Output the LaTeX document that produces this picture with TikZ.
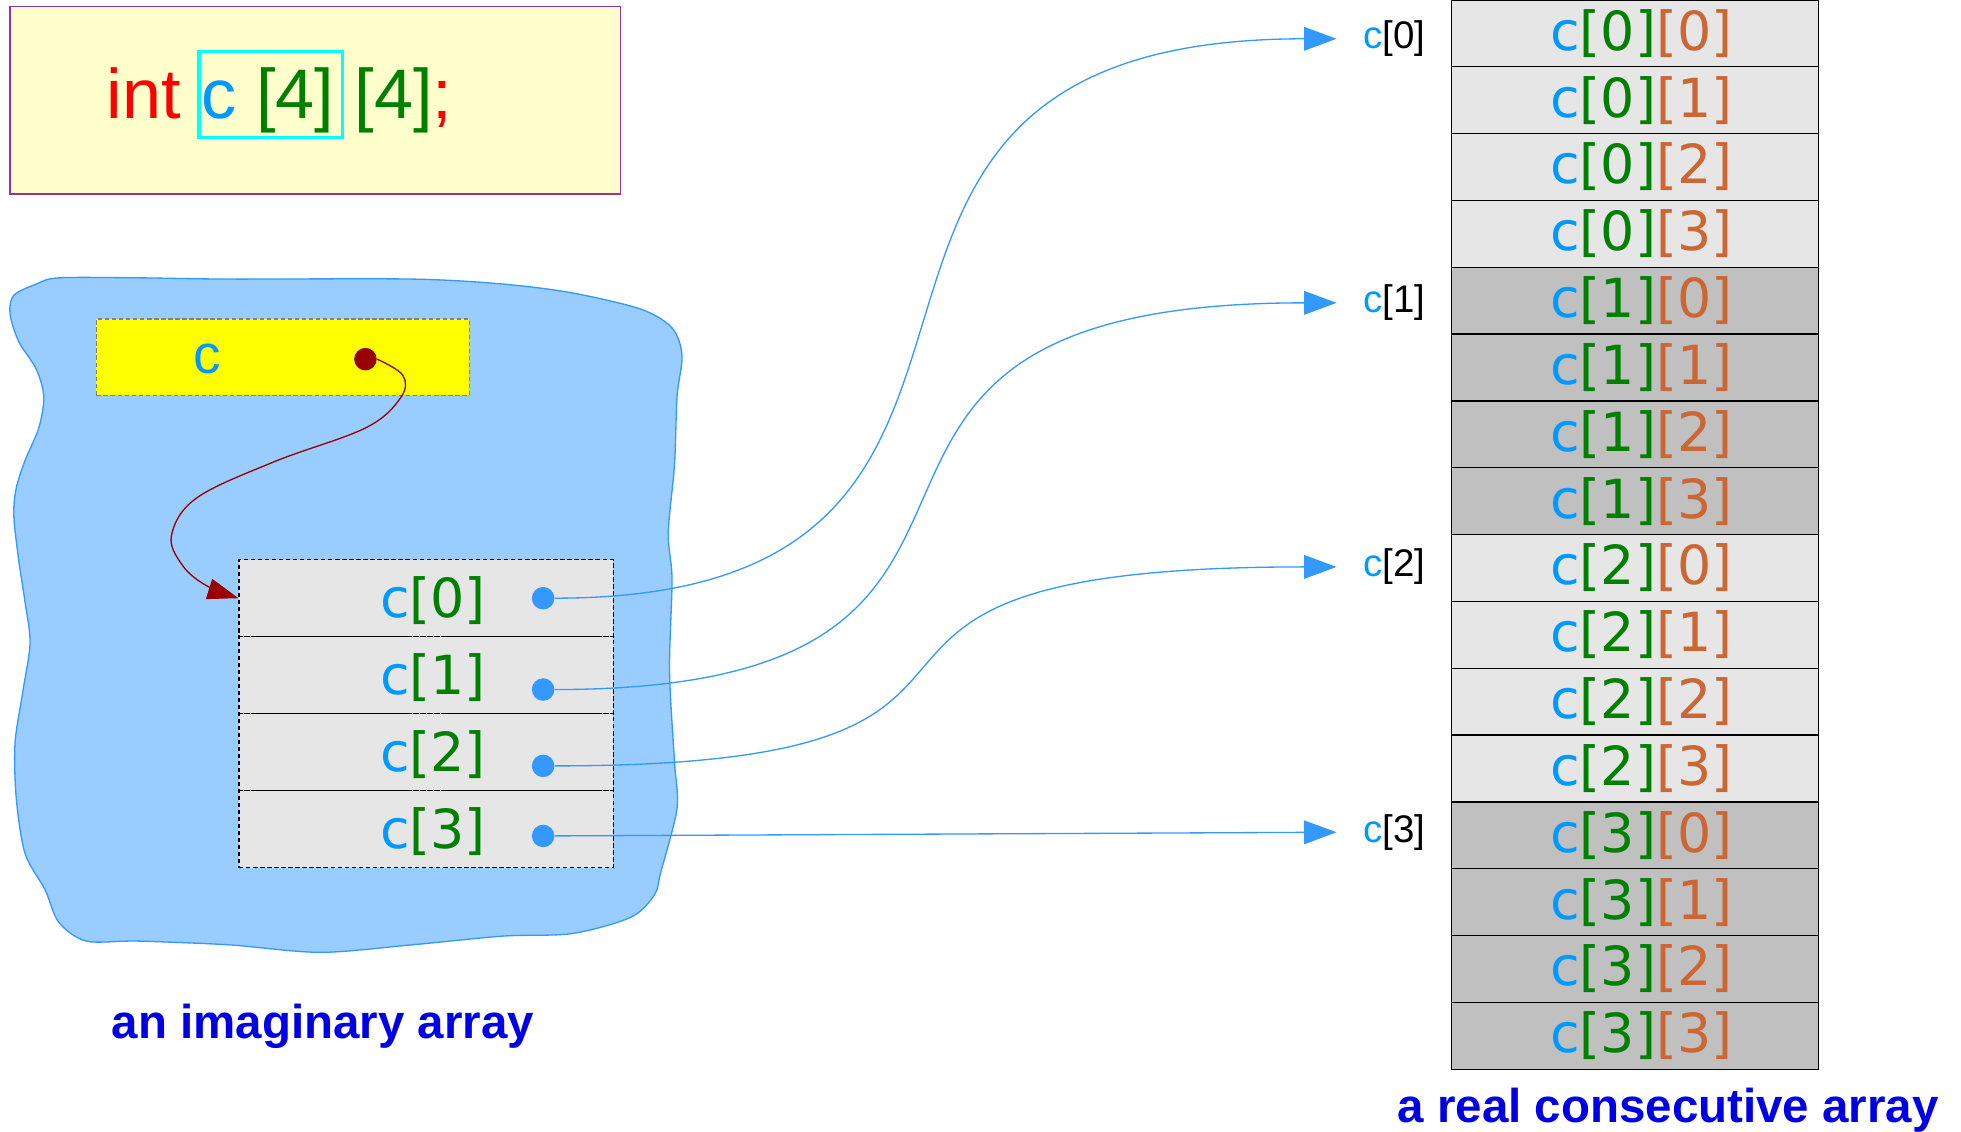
\documentclass[tikz,border=0pt]{standalone}
\usepackage{fontspec}
\setmainfont{Liberation Sans}
\newfontfamily\dvs{DejaVu Sans}
\usetikzlibrary{arrows.meta,calc}
\definecolor{cblue}{RGB}{0,153,255}
\definecolor{cgreen}{RGB}{0,128,0}
\definecolor{corange}{RGB}{204,102,51}
\definecolor{cred}{RGB}{255,0,0}
\definecolor{ccyan}{RGB}{0,255,255}
\definecolor{ablue}{RGB}{51,153,255}
\definecolor{blobfill}{RGB}{153,204,255}
\definecolor{cellL}{RGB}{230,230,230}
\definecolor{cellD}{RGB}{192,192,192}
\definecolor{dyellow}{RGB}{255,255,204}
\definecolor{dpurple}{RGB}{153,51,153}
\definecolor{tblue}{RGB}{0,0,230}
\definecolor{dred}{RGB}{153,0,0}
\definecolor{yfill}{RGB}{255,255,0}
\begin{document}
\begin{tikzpicture}[x=0.02cm,y=-0.02cm,
  dtext/.style={inner sep=0pt, font=\fontsize{31.9}{32}\selectfont},
  realcell/.style={draw=black, line width=0.6pt, minimum width=5.86cm, minimum height=1.068cm, inner sep=0pt, font=\dvs\fontsize{24.5}{25}\selectfont},
  pcell/.style={draw=black, dash pattern=on 2pt off 1.2pt, line width=0.6pt, fill=cellL, minimum width=5.98cm, minimum height=1.23cm, inner sep=0pt},
  ptext/.style={inner sep=0pt, font=\dvs\fontsize{24.5}{25}\selectfont},
  pdot/.style={circle, fill=ablue, minimum size=0.36cm, inner sep=0pt},
  lab/.style={inner sep=0pt, anchor=west, font=\fontsize{17.5}{17.5}\selectfont},
  conn/.style={draw=ablue, line width=0.6pt, -{Triangle[length=14.8pt,width=10.8pt]}},
  rconn/.style={draw=dred, line width=0.6pt, -{Triangle[length=14pt,width=9.5pt]}},
  title/.style={inner sep=0pt, text=tblue, font=\bfseries\fontsize{21.6}{22}\selectfont}
]
\useasboundingbox (0,0) rectangle (1567,903.8);

% declaration box
\node[draw=dpurple, fill=dyellow, line width=0.6pt, minimum width=9.76cm, minimum height=3cm] (decl) at (252,80) {};
\node[draw=ccyan, line width=1.4pt, minimum width=2.3cm, minimum height=1.38cm] (dbox) at (216.5,75.5) {};
\node[dtext, anchor=base west] (dint) at (85,95) {\textcolor{cred}{int}};
\node[dtext, anchor=base west] (dc) at (161,95) {\textcolor{cblue}{c} \textcolor{cgreen}{[4]}};
\node[dtext, anchor=base west] (dfour) at (283,95) {\textcolor{cgreen}{[4]}\textcolor{cred}{;}};

% blob
\draw[fill=blobfill, draw=ablue, line width=0.6pt] plot[smooth cycle, tension=0.5] coordinates {
(47,222) (110,222) (183,223) (329,223) (402,227) (457,234) (512,247) (537,262) (545,284) (541,317) (539,371) (534,426) (537,463) (535,536) (539,609) (541,646) (528,697) (523,715) (504,733) (457,746) (402,748) (329,755) (256,761) (183,755) (110,752) (69,752) (47,737) (36,711) (20,682) (13,638) (12,594) (18,554) (24,514) (20,481) (15,448) (11,412) (13,390) (20,368) (31,342) (35,317) (29,295) (15,273) (8,251) (11,236) (29,227)};

% pointer variable c
\node[draw=gray, dash pattern=on 2pt off 1.2pt, line width=0.6pt, fill=yfill, minimum width=5.96cm, minimum height=1.22cm] (cbox) at (226,285.5) {};
\node[inner sep=0pt, text=cblue, font=\fontsize{25}{25}\selectfont] (ctext) at (166,287) {c};
\node[circle, fill=dred, minimum size=0.36cm, inner sep=0pt] (cdot) at (292,287) {};

% pointer array
\foreach \i/\yy/\dy in {0/478/478, 1/539.5/551, 2/601/612, 3/662.5/668} {
  \node[pcell] (p\i) at (340.5,\yy) {};
  \node[ptext] (pt\i) at (346,\yy+2) {\textcolor{cblue}{c}\textcolor{cgreen}{[\i]}};
  \node[pdot] (pd\i) at (434,\dy) {};
}

% real array
\foreach \i/\col in {0/cellL,1/cellD,2/cellL,3/cellD} {
  \foreach \j in {0,...,3} {
    \pgfmathsetmacro\yy{26.7+53.4*(4*\i+\j)}
    \node[realcell, fill=\col] (r\i\j) at (1306.5,\yy) {\hspace*{5.7pt}\textcolor{cblue}{c}\textcolor{cgreen}{[\i]}\textcolor{corange}{[\j]}};
  }
}

% labels
\foreach \i/\yy in {0/31, 1/242, 2/453, 3/665} {
  \node[lab] (lab\i) at (1089,\yy) {\textcolor{cblue}{c}[\i]};
}

% connectors
\draw[conn] (pd0) .. controls +(466,0) and +(-494,0) .. ($(lab0.west)+(-21,0)$);
\draw[conn] (pd1) .. controls +(466,0) and +(-494,0) .. ($(lab1.west)+(-21,0)$);
\draw[conn] (pd2) .. controls +(466,0) and +(-494,0) .. ($(lab2.west)+(-21,0)$);
\draw[conn] (pd3) -- ($(lab3.west)+(-21,0)$);

\draw[rconn] plot[smooth, tension=0.6] coordinates {(cdot.east) (322,300) (320,318) (292,342) (219,369) (157,398) (137,428) (146,452) (165,468) (p0.west)};

% titles
\node[title] (t1) at (258,820) {an imaginary array};
\node[title] (t2) at (1333,887) {a real consecutive array};
\end{tikzpicture}
\end{document}
